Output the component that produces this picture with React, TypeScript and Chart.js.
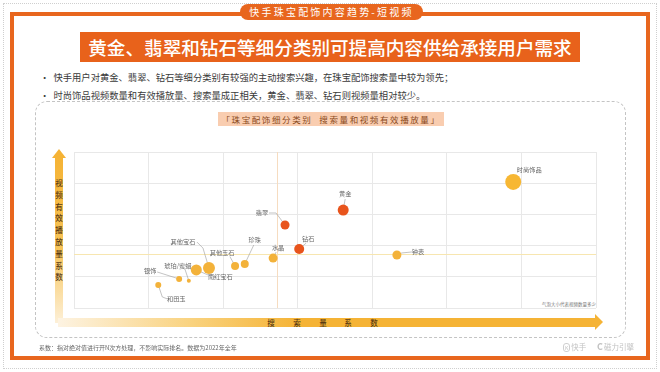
import React, { useEffect, useRef } from "react";
import { Chart, registerables } from "chart.js";

Chart.register(...registerables);

const categories = [
  "时尚饰品", "黄金", "翡翠", "钻石", "钟表", "水晶", "珍珠",
  "其他玉石", "其他宝石", "南红宝石", "琥珀/蜜蜡", "银饰", "和田玉",
];
const searchIndex = [5.89, 3.61, 2.83, 3.02, 4.33, 2.67, 2.29, 2.16, 1.81, 1.64, 1.54, 1.41, 1.13];
const playIndex = [4.04, 3.14, 2.66, 1.89, 1.70, 1.60, 1.41, 1.35, 1.28, 1.22, 0.87, 0.93, 0.74];
const videoVolume = [8, 5.5, 4.5, 5, 4.5, 4.5, 4, 4, 6, 5.5, 2, 3, 3];
const highlight = [false, true, true, true, false, false, false, false, false, false, false, false, false];
const avgSearch = 2.72;
const avgPlay = 1.73;

// label layout: text centre offset and leader-line path (relative to bubble centre)
const labelLayout: { t: [number, number]; line: [number, number][] }[] = [
  { t: [16, -12], line: [] },
  { t: [2, -16], line: [[2, -11]] },
  { t: [-23, -12], line: [[-9, -12], [-16, -12]] },
  { t: [9, -10], line: [[7, -6]] },
  { t: [21, -3], line: [[5, -2], [15, -3]] },
  { t: [5, -10], line: [[3, -6]] },
  { t: [10, -24], line: [[9, -19]] },
  { t: [-13, -13], line: [[-5, -9]] },
  { t: [-26, -26], line: [[-6, -20], [-12, -26]] },
  { t: [24, 7], line: [[14, 6]] },
  { t: [-11, -15], line: [[-4, -12]] },
  { t: [-29, -8], line: [[-22, -7]] },
  { t: [18, 14], line: [[4, 12], [9, 14]] },
];

const FONT = '"Noto Sans CJK SC", "Noto Sans", sans-serif';
const ORANGE = "#e8661e";

const labelPlugin = {
  id: "labels",
  beforeDatasetsDraw(chart: any) {
    const { ctx, chartArea, scales } = chart;
    ctx.save();
    const ax = scales.x.getPixelForValue(avgSearch);
    const ay = scales.y.getPixelForValue(avgPlay);
    ctx.lineWidth = 1;
    ctx.strokeStyle = "#f6dcc0";
    ctx.beginPath();
    ctx.moveTo(Math.round(ax) + 0.5, chartArea.top);
    ctx.lineTo(Math.round(ax) + 0.5, chartArea.bottom);
    ctx.stroke();
    ctx.strokeStyle = "#f7e6b0";
    ctx.beginPath();
    ctx.moveTo(chartArea.left, Math.round(ay) + 0.5);
    ctx.lineTo(chartArea.right, Math.round(ay) + 0.5);
    ctx.stroke();
    const meta = chart.getDatasetMeta(0);
    ctx.strokeStyle = "#9a9a9a";
    ctx.lineWidth = 0.6;
    meta.data.forEach((el: any, i: number) => {
      const l = labelLayout[i];
      if (!l.line.length) return;
      ctx.beginPath();
      ctx.moveTo(el.x, el.y);
      l.line.forEach(([dx, dy]) => ctx.lineTo(el.x + dx, el.y + dy));
      ctx.stroke();
    });
    ctx.restore();
  },
  afterDatasetsDraw(chart: any) {
    const { ctx } = chart;
    const meta = chart.getDatasetMeta(0);
    ctx.save();
    ctx.font = `6.2px ${FONT}`;
    ctx.fillStyle = "#666";
    ctx.textAlign = "center";
    ctx.textBaseline = "middle";
    meta.data.forEach((el: any, i: number) => {
      const l = labelLayout[i];
      ctx.fillText(categories[i], el.x + l.t[0], el.y + l.t[1]);
    });
    ctx.restore();
  },
};

function ChartCanvas() {
  const ref = useRef<HTMLCanvasElement>(null);
  useEffect(() => {
    if (!ref.current) return;
    const points = categories.map((_, i) => ({ x: searchIndex[i], y: playIndex[i], r: videoVolume[i] }));
    const colors = highlight.map((h, i) => (h ? "#e8541c" : i === 0 ? "#f7b733" : "#f3b23a"));
    const chart = new Chart(ref.current, {
      type: "bubble",
      data: { datasets: [{ data: points, backgroundColor: colors, borderWidth: 0, hoverRadius: 0 } as any] },
      options: {
        responsive: false,
        animation: false,
        devicePixelRatio: 1,
        layout: { padding: { left: 74, top: 152, right: 64, bottom: 64 } },
        plugins: { legend: { display: false }, tooltip: { enabled: false } },
        scales: {
          x: {
            min: 0, max: 7,
            ticks: { display: false, stepSize: 1 },
            grid: { color: "#e8e8e8", drawTicks: false, lineWidth: 1 },
            border: { display: false },
          },
          y: {
            min: 0, max: 5,
            ticks: { display: false, stepSize: 1 },
            grid: { color: "#e8e8e8", drawTicks: false, lineWidth: 1 },
            border: { display: false },
          },
        },
      } as any,
      plugins: [labelPlugin],
    });
    return () => chart.destroy();
  }, []);
  return (
    <canvas
      ref={ref}
      width={660}
      height={372}
      style={{ position: "absolute", left: 0, top: 0, width: 660, height: 372 }}
    />
  );
}

const abs = (s: React.CSSProperties): React.CSSProperties => ({ position: "absolute", ...s });

export default function App() {
  const yChars = "视频有效播放量系数".split("");
  const xChars = "搜索量系数".split("");
  const xCharPos = [271, 297, 323, 348, 374];
  return (
    <div style={{ position: "fixed", left: 0, top: 0, width: 660, height: 372, background: "#fff", fontFamily: FONT, overflow: "hidden" }}>
      <div style={abs({ left: 3, top: 3, width: 652, height: 364, border: "1px dotted #cfcfcf" })} />
      <div style={abs({ left: 10, top: 12, width: 632, height: 340, border: `4px solid ${ORANGE}` })} />
      <div style={abs({ left: 240, top: 4, width: 183, height: 16, borderRadius: 8, background: ORANGE, color: "#fff", fontSize: 10, lineHeight: "16px", textAlign: "center", letterSpacing: 2.2 })}>
        快手珠宝配饰内容趋势-短视频
      </div>
      <div style={abs({ left: 80, top: 32, width: 500, height: 30, background: "#e8621b", color: "#fff", fontSize: 18.6, lineHeight: "30px", textAlign: "center", fontWeight: 500, whiteSpace: "nowrap" })}>
        黄金、翡翠和钻石等细分类别可提高内容供给承接用户需求
      </div>
      <div style={abs({ left: 40, top: 71, fontSize: 9.3, lineHeight: "12px", color: "#3a3a3a", whiteSpace: "nowrap" })}>
        •&nbsp;&nbsp;快手用户对黄金、翡翠、钻石等细分类别有较强的主动搜索兴趣，在珠宝配饰搜索量中较为领先；
      </div>
      <div style={abs({ left: 40, top: 89, fontSize: 9.3, lineHeight: "12px", color: "#3a3a3a", whiteSpace: "nowrap" })}>
        •&nbsp;&nbsp;时尚饰品视频数量和有效播放量、搜索量成正相关，黄金、翡翠、钻石则视频量相对较少。
      </div>
      <div style={abs({ left: 35, top: 101, width: 589, height: 235, border: "1px dashed #c4c4c4", borderRadius: 12 })} />
      <div style={abs({ left: 218, top: 112, width: 226, height: 14, background: "#f9cdb0", color: "#8a4a20", fontSize: 8.5, lineHeight: "14px", textAlign: "center", letterSpacing: 1.6, whiteSpace: "nowrap" })}>
        「珠宝配饰细分类别&nbsp;&nbsp;搜索量和视频有效播放量」
      </div>
      {/* Y arrow */}
      <div style={abs({ left: 55, top: 157, width: 8, height: 166, background: "linear-gradient(to bottom, #f5b335 0%, #f7c458 55%, #fdf0d8 100%)" })} />
      <div style={abs({ left: 52, top: 149, width: 0, height: 0, borderLeft: "7px solid transparent", borderRight: "7px solid transparent", borderBottom: "9px solid #f5b335" })} />
      {yChars.map((c, i) => (
        <div key={c + i} style={abs({ left: 54, top: 178 + i * 11.8, width: 10, fontSize: 7.5, lineHeight: "10px", textAlign: "center", color: "#5a3a12", fontWeight: 500 })}>{c}</div>
      ))}
      {/* X arrow */}
      <div style={abs({ left: 58, top: 318, width: 538, height: 9, background: "linear-gradient(to right, #fdf3e2 0%, #f9d27e 25%, #f5b335 45%, #f5b335 100%)" })} />
      <div style={abs({ left: 595, top: 314, width: 0, height: 0, borderTop: "8.5px solid transparent", borderBottom: "8.5px solid transparent", borderLeft: "8px solid #f5b335" })} />
      {xChars.map((c, i) => (
        <div key={c + i} style={abs({ left: xCharPos[i] - 5, top: 317.5, width: 10, fontSize: 7.5, lineHeight: "10px", textAlign: "center", color: "#5a3a12", fontWeight: 500 })}>{c}</div>
      ))}
      <div style={abs({ left: 520, top: 301, width: 76, fontSize: 4.5, lineHeight: "6px", textAlign: "right", color: "#777", whiteSpace: "nowrap" })}>
        气泡大小代表视频数量多少
      </div>
      <ChartCanvas />
      <div style={abs({ left: 39, top: 344, fontSize: 6, lineHeight: "8px", color: "#666", whiteSpace: "nowrap" })}>
        系数：指对绝对值进行开N次方处理，不影响实际排名。数据为2022年全年
      </div>
      <div style={abs({ left: 563, top: 342, fontSize: 7.5, lineHeight: "10px", color: "#c2c2c2", whiteSpace: "nowrap" })}>
        <span style={{ border: "1px solid #cfcfcf", borderRadius: 3, fontSize: 5, padding: "0 1px", marginRight: 1 }}>K</span>快手
      </div>
      <div style={abs({ left: 597, top: 342, fontSize: 7.5, lineHeight: "10px", color: "#c2c2c2", whiteSpace: "nowrap" })}>
        <span style={{ fontSize: 9, fontWeight: 700, marginRight: 1 }}>C</span>磁力引擎
      </div>
    </div>
  );
}
